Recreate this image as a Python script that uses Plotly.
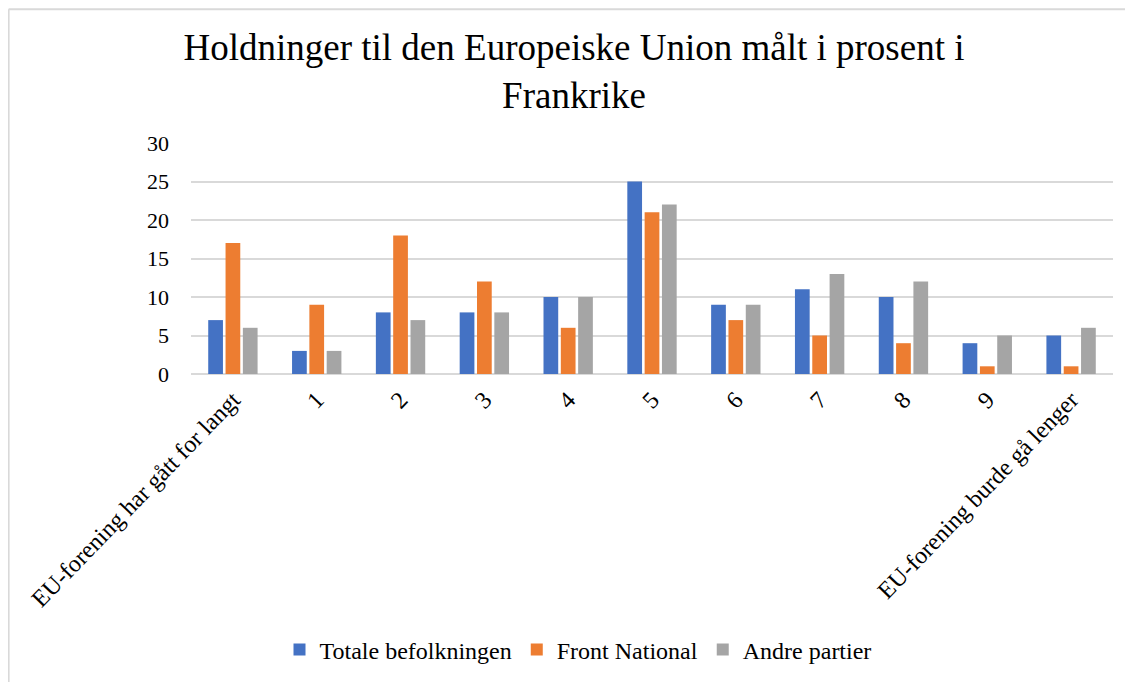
import plotly.graph_objects as go

categories = ["EU-forening har gått for langt", "1", "2", "3", "4", "5", "6", "7", "8", "9",
              "EU-forening burde gå lenger"]
totale = [7, 3, 8, 8, 10, 25, 9, 11, 10, 4, 5]
front_national = [17, 9, 18, 12, 6, 21, 7, 5, 4, 1, 1]
andre = [6, 3, 7, 8, 10, 22, 9, 13, 12, 5, 6]

series_names = ["Totale befolkningen", "Front National", "Andre partier"]
colors = ["#4472C4", "#ED7D31", "#A5A5A5"]

OFF = 8  # page offset of the figure in the browser
W, H = 1117, 674
ML, MT, MB = 191 - OFF, 143 - OFF, 307
MR = W - ML - 922
FONT = "Times New Roman, Liberation Serif, serif"

fig = go.Figure()
for name, vals, col in zip(series_names, [totale, front_national, andre], colors):
    fig.add_trace(go.Bar(name=name, x=categories, y=vals, marker_color=col,
                         marker_line_width=0))

pw = W - ML - MR
ph = H - MT - MB
def px(x):
    return (x - OFF - ML) / pw
def py(y):
    return (H - MB - (y - OFF)) / ph

border = dict(color="#d9d9d9", width=2)
fig.add_shape(type="line", xref="paper", yref="paper",
              x0=px(8.6), x1=px(1140), y0=py(8.6), y1=py(8.6), line=border, layer="below")
fig.add_shape(type="line", xref="paper", yref="paper",
              x0=px(8.6), x1=px(8.6), y0=py(8.6), y1=py(700), line=border, layer="below")

fig.update_layout(
    width=W, height=H,
    margin=dict(l=ML, r=MR, t=MT, b=MB),
    paper_bgcolor="white", plot_bgcolor="white",
    font=dict(family=FONT, color="#000000", size=22),
    title=dict(text="Holdninger til den Europeiske Union målt i prosent i<br>Frankrike",
               x=px(574), xref="paper", xanchor="center", y=0.923, yanchor="top",
               font=dict(family=FONT, size=37, color="#000000")),
    barmode="group", bargap=0.38, bargroupgap=0.15,
    showlegend=True,
    legend=dict(orientation="h", x=px(578), xref="paper", xanchor="center",
                y=py(650), yanchor="middle", font=dict(size=24, family=FONT, color="#000000"),
                itemwidth=30, tracegroupgap=0),
    xaxis=dict(tickangle=-46, tickfont=dict(size=24, family=FONT, color="#000000"),
               showgrid=False, showline=False, ticks="", ticklabelstandoff=6),
    yaxis=dict(range=[0, 30], dtick=5, showgrid=True, gridcolor="#d9d9d9", gridwidth=2,
               zeroline=True, zerolinecolor="#d9d9d9", zerolinewidth=2,
               tickfont=dict(size=22, family=FONT, color="#000000"), ticks="", showline=False,
               ticklabelstandoff=21),
)

fig.write_html("out.html")
